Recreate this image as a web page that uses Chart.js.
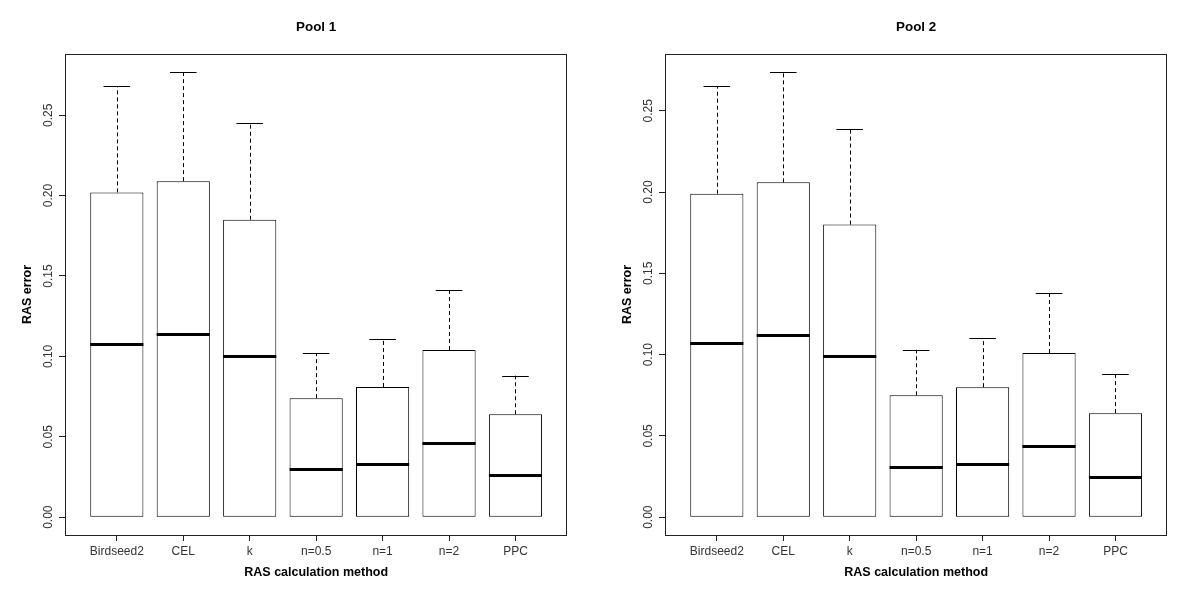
<!DOCTYPE html>
<html>
<head>
<meta charset="utf-8">
<script src="https://cdn.jsdelivr.net/npm/chart.js@4.4.1/dist/chart.umd.min.js"></script>
<style>
  html, body { margin: 0; padding: 0; background: #fff; }
  #wrap { position: relative; width: 1200px; height: 600px; }
  .panel { position: absolute; top: 0; width: 600px; height: 600px; }
</style>
</head>
<body>
<div id="wrap">
  <div class="panel" style="left:0"><canvas id="c1" width="600" height="600"></canvas></div>
  <div class="panel" style="left:600px"><canvas id="c2" width="600" height="600"></canvas></div>
</div>
<script>
// ---- data ----
const categories = ['Birdseed2', 'CEL', 'k', 'n=0.5', 'n=1', 'n=2', 'PPC'];
const yTicks = [0, 0.05, 0.10, 0.15, 0.20, 0.25];

const pool1Min    = [0, 0, 0, 0, 0, 0, 0];
const pool1Q1     = [0, 0, 0, 0, 0, 0, 0];
const pool1Median = [0.108, 0.114, 0.100, 0.030, 0.033, 0.046, 0.026];
const pool1Q3     = [0.202, 0.209, 0.185, 0.074, 0.081, 0.104, 0.064];
const pool1Max    = [0.268, 0.277, 0.245, 0.102, 0.111, 0.141, 0.088];

const pool2Min    = [0, 0, 0, 0, 0, 0, 0];
const pool2Q1     = [0, 0, 0, 0, 0, 0, 0];
const pool2Median = [0.107, 0.112, 0.099, 0.031, 0.033, 0.044, 0.025];
const pool2Q3     = [0.199, 0.206, 0.180, 0.075, 0.080, 0.101, 0.064];
const pool2Max    = [0.265, 0.274, 0.239, 0.103, 0.110, 0.138, 0.088];

const FAM = '"Liberation Sans", Arial, Helvetica, sans-serif';

// ---- box-plot overlay plugin (medians, whiskers, frame) ----
const boxPlugin = {
  id: 'boxExtras',
  afterDatasetsDraw(chart, args, opts) {
    const ctx = chart.ctx;
    const xs = chart.scales.x, ys = chart.scales.y;
    const meta = chart.getDatasetMeta(0);
    ctx.save();
    ctx.strokeStyle = '#000';
    for (let i = 0; i < categories.length; i++) {
      const x = xs.getPixelForValue(i + 1);
      const hw = meta.data[i].width / 2;
      const xc = Math.round(x) + 0.5;
      // whiskers (dashed)
      ctx.setLineDash([4, 3]);
      ctx.lineWidth = 1;
      ctx.beginPath();
      ctx.moveTo(xc, ys.getPixelForValue(opts.q3[i]));
      ctx.lineTo(xc, ys.getPixelForValue(opts.max[i]));
      if (opts.min[i] < opts.q1[i]) {
        ctx.moveTo(xc, ys.getPixelForValue(opts.q1[i]));
        ctx.lineTo(xc, ys.getPixelForValue(opts.min[i]));
      }
      ctx.stroke();
      // staples
      ctx.setLineDash([]);
      ctx.beginPath();
      const yMax = Math.round(ys.getPixelForValue(opts.max[i])) + 0.5;
      ctx.moveTo(x - hw / 2, yMax); ctx.lineTo(x + hw / 2, yMax);
      if (opts.min[i] < opts.q1[i]) {
        const yMin = Math.round(ys.getPixelForValue(opts.min[i])) + 0.5;
        ctx.moveTo(x - hw / 2, yMin); ctx.lineTo(x + hw / 2, yMin);
      }
      ctx.stroke();
      // median
      ctx.lineWidth = 3;
      ctx.lineCap = 'butt';
      ctx.beginPath();
      const ym = Math.round(ys.getPixelForValue(opts.median[i])) + 0.5;
      ctx.moveTo(x - hw, ym); ctx.lineTo(x + hw, ym);
      ctx.stroke();
    }
    // plot frame
    const a = chart.chartArea;
    ctx.lineWidth = 1;
    ctx.strokeStyle = '#222';
    ctx.strokeRect(Math.round(a.left) + 0.5, Math.round(a.top) + 0.5,
                   Math.round(a.right - a.left) - 1, Math.round(a.bottom - a.top));
    ctx.restore();
  }
};

function makeChart(id, title, mn, q1, med, q3, mx) {
  const allVals = [].concat(mn, q1, med, q3, mx);
  const lo = Math.min(...allVals), hi = Math.max(...allVals);
  const ext = (hi - lo) * 0.04;
  const n = categories.length;
  const xExt = n * 0.04;

  new Chart(document.getElementById(id), {
    type: 'bar',
    data: {
      datasets: [{
        data: categories.map((c, i) => ({ x: i + 1, y: [q1[i], q3[i]] })),
        backgroundColor: '#fff',
        borderColor: '#000',
        borderWidth: 1,
        borderSkipped: false,
        barPercentage: 0.8,
        categoryPercentage: 1.0
      }]
    },
    options: {
      responsive: false,
      animation: false,
      events: [],
      layout: { padding: { left: 0, right: 32.7, top: 19.5, bottom: 0 } },
      plugins: {
        legend: { display: false },
        tooltip: { enabled: false },
        title: {
          display: true,
          text: title,
          fullSize: false,
          color: '#000',
          font: { family: FAM, size: 13.4, weight: 'bold' },
          padding: { top: 0, bottom: 18.4 }
        },
        boxExtras: { min: mn, q1: q1, median: med, q3: q3, max: mx }
      },
      scales: {
        x: {
          type: 'linear',
          offset: false,
          min: 0.5 - xExt,
          max: n + 0.5 + xExt,
          afterBuildTicks: (s) => { s.ticks = categories.map((c, i) => ({ value: i + 1 })); },
          afterFit: (s) => { s.height = 65; },
          ticks: {
            autoSkip: false,
            maxRotation: 0,
            minRotation: 0,
            padding: 3.8,
            color: '#333',
            font: { family: FAM, size: 12 },
            callback: (v) => categories[Math.round(v) - 1]
          },
          grid: { display: true, offset: false, drawOnChartArea: false, drawTicks: true, tickLength: 6, color: '#222' },
          border: { display: false },
          title: {
            display: true,
            text: 'RAS calculation method',
            color: '#000',
            font: { family: FAM, size: 12.5, weight: 'bold' },
            padding: { top: 0, bottom: 20.2 }
          }
        },
        y: {
          type: 'linear',
          min: lo - ext,
          max: hi + ext,
          afterBuildTicks: (s) => { s.ticks = yTicks.map(v => ({ value: v })); },
          afterFit: (s) => { s.width = 65; },
          ticks: {
            minRotation: 90,
            maxRotation: 90,
            crossAlign: 'center',
            padding: -1,
            color: '#333',
            font: { family: FAM, size: 12 },
            callback: (v) => Number(v).toFixed(2)
          },
          grid: { display: true, drawOnChartArea: false, drawTicks: true, tickLength: 6, color: '#222' },
          border: { display: false },
          title: {
            display: true,
            text: 'RAS error',
            color: '#000',
            font: { family: FAM, size: 12.5, weight: 'bold' },
            padding: { top: 20, bottom: 0 }
          }
        }
      }
    },
    plugins: [boxPlugin]
  });
}

makeChart('c1', 'Pool 1', pool1Min, pool1Q1, pool1Median, pool1Q3, pool1Max);
makeChart('c2', 'Pool 2', pool2Min, pool2Q1, pool2Median, pool2Q3, pool2Max);
</script>
</body>
</html>
